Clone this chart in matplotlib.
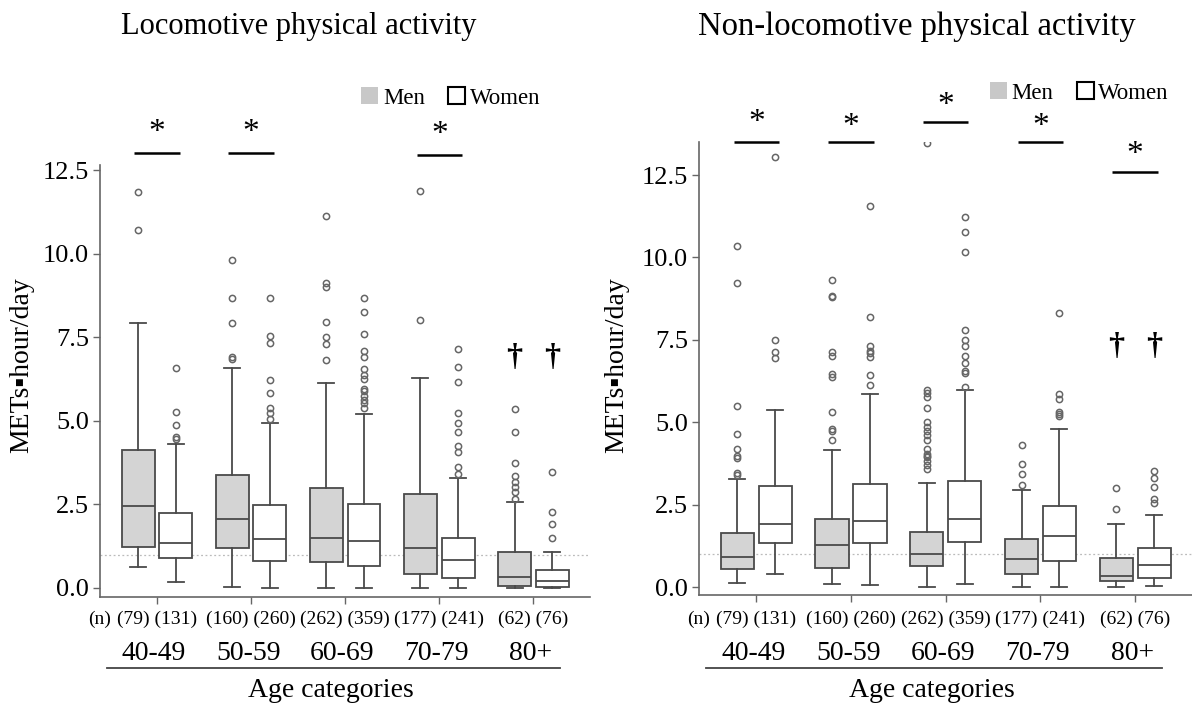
import numpy as np
import matplotlib
matplotlib.use('Agg')
import matplotlib.pyplot as plt
from matplotlib.patches import Patch
from matplotlib.transforms import blended_transform_factory

plt.rcParams['font.family'] = ['Liberation Serif', 'DejaVu Sans']

groups = ['40-49', '50-59', '60-69', '70-79', '80+']
n_men = [79, 160, 262, 177, 62]
n_women = [131, 260, 359, 241, 76]

# locomotive physical activity (METs-hour/day)
loc_men_lo = [0.63, 0.02, 0.0, 0.0, 0.0]
loc_men_q1 = [1.23, 1.19, 0.78, 0.42, 0.06]
loc_men_med = [2.46, 2.07, 1.50, 1.19, 0.33]
loc_men_q3 = [4.13, 3.38, 2.99, 2.81, 1.08]
loc_men_hi = [7.93, 6.58, 6.13, 6.29, 2.57]
loc_men_out = [[10.7, 11.85],
               [6.85, 6.9, 7.93, 8.68, 9.82],
               [6.83, 7.3, 7.5, 7.96, 9.0, 9.12, 11.14],
               [8.02, 11.89],
               [2.66, 2.87, 3.02, 3.17, 3.35, 3.74, 4.67, 5.36]]

loc_women_lo = [0.18, 0.0, 0.0, 0.0, 0.0]
loc_women_q1 = [0.90, 0.81, 0.66, 0.31, 0.03]
loc_women_med = [1.35, 1.47, 1.41, 0.83, 0.21]
loc_women_q3 = [2.25, 2.48, 2.51, 1.51, 0.55]
loc_women_hi = [4.31, 4.94, 5.20, 3.29, 1.08]
loc_women_out = [[4.47, 4.52, 4.88, 5.27, 6.59],
                 [5.06, 5.24, 5.38, 5.83, 6.23, 7.33, 7.54, 8.68],
                 [5.38, 5.55, 5.63, 5.73, 5.88, 5.95, 6.25, 6.38, 6.56, 6.91, 7.1, 7.6, 8.26, 8.68],
                 [3.41, 3.63, 4.07, 4.25, 4.67, 4.94, 5.24, 6.17, 6.62, 7.15],
                 [1.5, 1.92, 2.28, 3.47]]

# non-locomotive physical activity
nl_men_lo = [0.12, 0.09, 0.0, 0.01, 0.0]
nl_men_q1 = [0.55, 0.57, 0.64, 0.40, 0.18]
nl_men_med = [0.91, 1.28, 1.00, 0.85, 0.34]
nl_men_q3 = [1.64, 2.07, 1.67, 1.46, 0.88]
nl_men_hi = [3.28, 4.17, 3.16, 2.95, 1.91]
nl_men_out = [[3.4, 3.46, 3.92, 3.97, 4.2, 4.65, 5.5, 9.21, 10.36],
              [4.47, 4.75, 4.8, 5.32, 6.38, 6.45, 7.0, 7.14, 8.8, 8.84, 9.33],
              [3.58, 3.71, 3.81, 3.94, 3.98, 4.04, 4.19, 4.45, 4.61, 4.75, 4.87, 5.02,
               5.42, 5.77, 5.89, 5.97, 13.47],
              [3.1, 3.43, 3.74, 4.32],
              [2.37, 3.01]]

nl_women_lo = [0.40, 0.06, 0.09, 0.01, 0.03]
nl_women_q1 = [1.34, 1.34, 1.37, 0.79, 0.27]
nl_women_med = [1.91, 2.00, 2.07, 1.55, 0.67]
nl_women_q3 = [3.07, 3.13, 3.22, 2.46, 1.19]
nl_women_hi = [5.38, 5.87, 5.99, 4.80, 2.19]
nl_women_out = [[6.95, 7.12, 7.5, 13.04],
                [6.14, 6.44, 6.99, 7.1, 7.17, 7.3, 8.18, 11.55],
                [6.08, 6.5, 6.57, 6.8, 7.0, 7.3, 7.5, 7.81, 10.15, 10.76, 11.22],
                [5.18, 5.25, 5.3, 5.71, 5.87, 8.3],
                [2.55, 2.67, 3.04, 3.31, 3.53]]

# significance marks: group index, bar height, star height
loc_sig = [(0, 13.02, 13.62), (1, 13.02, 13.62), (3, 12.96, 13.56)]
nl_sig = [(0, 13.5, 14.1), (1, 13.5, 13.95), (2, 14.1, 14.6), (3, 13.5, 13.95), (4, 12.6, 13.1)]

edge = '#4a4a4a'
grey = '#d4d4d4'


def stats(lo, q1, med, q3, hi, out):
    return [dict(whislo=lo[i], q1=q1[i], med=med[i], q3=q3[i], whishi=hi[i],
                 fliers=out[i]) for i in range(len(lo))]


def panel(ax, men, women, ylim, sig, dag_y):
    pos = np.arange(1, len(groups) + 1)
    for st, dx, fc in ((men, -0.2, grey), (women, 0.2, 'white')):
        ax.bxp(st, positions=pos + dx, widths=0.35, patch_artist=True,
               showcaps=True, capwidths=0.17,
               boxprops=dict(facecolor=fc, edgecolor=edge, linewidth=1.3),
               medianprops=dict(color=edge, linewidth=1.3),
               whiskerprops=dict(color=edge, linewidth=1.3),
               capprops=dict(color=edge, linewidth=1.3),
               flierprops=dict(marker='o', markersize=4.5, markerfacecolor='none',
                               markeredgecolor='#666666', markeredgewidth=1.1))
    ax.axhline(1.0, color='#bbbbbb', lw=0.9, ls=(0, (1.5, 2)), zorder=0)
    ax.set_xlim(0.395, pos[-1] + 0.6)
    ax.set_ylim(*ylim)
    ax.set_xticks(pos)
    ax.set_xticklabels([])
    ax.set_yticks([0, 2.5, 5, 7.5, 10, 12.5])
    ax.set_yticklabels(['0.0', '2.5', '5.0', '7.5', '10.0', '12.5'])
    ax.tick_params(axis='both', colors='#666666', labelcolor='black', labelsize=19,
                   length=5, width=1, pad=3)
    for s in ('top', 'right'):
        ax.spines[s].set_visible(False)
    for s in ('left', 'bottom'):
        ax.spines[s].set_color('#666666')
        ax.spines[s].set_linewidth(1.2)
    for g, yb, ys in sig:
        ax.plot([pos[g] - 0.24, pos[g] + 0.24], [yb, yb], color='black', lw=1.8,
                clip_on=False, solid_capstyle='butt')
        ax.text(pos[g], ys, '*', ha='center', va='center', fontsize=24, clip_on=False)
    for dx in (-0.2, 0.2):
        ax.text(pos[-1] + dx, dag_y, '\u2020', ha='center', va='center', fontsize=23,
                fontweight='bold')

    # sample sizes, age labels and underline below the axis
    tr = blended_transform_factory(ax.transData, fig.transFigure)
    tra = blended_transform_factory(ax.transAxes, fig.transFigure)
    ax.text(0.0, 0.123, '(n)', transform=tra, ha='center', va='center', fontsize=14)
    for i, g in enumerate(groups):
        ax.text(pos[i], 0.123, '(%d) (%d)' % (n_men[i], n_women[i]), transform=tr,
                ha='center', va='center', fontsize=14)
        ax.text(pos[i] - 0.03, 0.075, g, transform=tr, ha='center', va='center', fontsize=20)
    ax.plot([0.47, 5.28], [0.054, 0.054], transform=tr, color='#444444', lw=1.3,
            clip_on=False)
    ax.text(2.85, 0.022, 'Age categories', transform=tr, ha='center', va='center',
            fontsize=20)


fig = plt.figure(figsize=(11.92, 7.06), dpi=100)
ax1 = fig.add_axes([0.0839, 0.1544, 0.411, 0.612])
ax2 = fig.add_axes([0.5864, 0.1572, 0.4136, 0.6416])

panel(ax1, stats(loc_men_lo, loc_men_q1, loc_men_med, loc_men_q3, loc_men_hi, loc_men_out),
      stats(loc_women_lo, loc_women_q1, loc_women_med, loc_women_q3, loc_women_hi, loc_women_out),
      (-0.27, 12.66), loc_sig, 6.9)
panel(ax2, stats(nl_men_lo, nl_men_q1, nl_men_med, nl_men_q3, nl_men_hi, nl_men_out),
      stats(nl_women_lo, nl_women_q1, nl_women_med, nl_women_q3, nl_women_hi, nl_women_out),
      (-0.24, 13.5), nl_sig, 7.3)

fig.text(0.251, 0.962, 'Locomotive physical activity', ha='center', va='center', fontsize=22)
fig.text(0.769, 0.962, 'Non-locomotive physical activity', ha='center', va='center', fontsize=23.5)
fig.text(0.0185, 0.483, 'METs\u25aahour/day', rotation=90, ha='center', va='center', fontsize=20)
fig.text(0.517, 0.483, 'METs\u25aahour/day', rotation=90, ha='center', va='center', fontsize=20)

handles = [Patch(facecolor='#c8c8c8', edgecolor='none'),
           Patch(facecolor='white', edgecolor='black', linewidth=1.5)]
for x, y in ((0.303, 0.861), (0.8305, 0.868)):
    fig.legend(handles, ['Men', 'Women'], loc='center left', bbox_to_anchor=(x, y),
               ncol=2, frameon=False, fontsize=16.5, handlelength=0.75, handleheight=0.75,
               handletextpad=0.2, columnspacing=1.0, borderpad=0, borderaxespad=0)

fig.savefig('out.png', dpi=100)
